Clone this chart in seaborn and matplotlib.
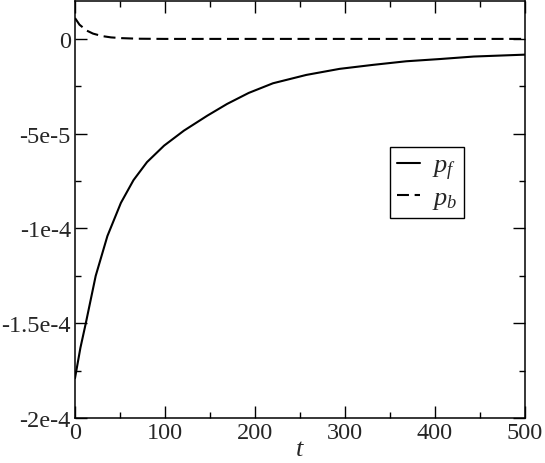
import numpy as np
import pandas as pd
import matplotlib
matplotlib.use("Agg")
import matplotlib.pyplot as plt
import seaborn as sns
from matplotlib.ticker import FixedLocator, FixedFormatter, MultipleLocator

# --- data ---
t_f = [0, 6, 12, 23, 36, 51, 65, 80, 99, 121, 147, 169, 193, 220, 257, 294,
       331, 368, 406, 443, 500]
p_f = [-17.9e-5, -16.3e-5, -15.0e-5, -12.5e-5, -10.4e-5, -8.65e-5, -7.45e-5,
       -6.5e-5, -5.63e-5, -4.84e-5, -4.05e-5, -3.43e-5, -2.85e-5, -2.34e-5,
       -1.90e-5, -1.58e-5, -1.37e-5, -1.18e-5, -1.06e-5, -0.93e-5, -0.83e-5]
t_b = [0, 5, 13, 20, 30, 40, 52, 70, 100, 500]
p_b = [11e-6, 7.5e-6, 4.4e-6, 2.8e-6, 1.5e-6, 0.8e-6, 0.4e-6, 0.1e-6, 0.0, 0.0]

y_ticks = [0, -5e-5, -1e-4, -1.5e-4, -2e-4]
y_tick_labels = ["0", "-5e-5", "-1e-4", "-1.5e-4", "-2e-4"]
x_ticks = [0, 100, 200, 300, 400, 500]
x_tick_labels = ["0", "100", "200", "300", "400", "500"]

sns.set_style("ticks")
plt.rcParams["font.family"] = ["Liberation Serif", "DejaVu Serif"]
plt.rcParams["mathtext.fontset"] = "custom"
plt.rcParams["mathtext.rm"] = "Liberation Serif"
plt.rcParams["mathtext.it"] = "Liberation Serif:italic"
plt.rcParams["lines.scale_dashes"] = False

df_f = pd.DataFrame({"t": t_f, "p": p_f})
df_b = pd.DataFrame({"t": t_b, "p": p_b})

fig = plt.figure(figsize=(5.45, 4.64), dpi=100)
ax = fig.add_axes([75 / 545, 1 - 419 / 464, 450 / 545, 417 / 464])

sns.lineplot(data=df_f, x="t", y="p", ax=ax, color="black", lw=1.5, label=r"$p_f$")
sns.lineplot(data=df_b, x="t", y="p", ax=ax, color="black", lw=1.5,
             linestyle=(0, (8.6, 4.1)), label=r"$p_b$")

ax.set_xlim(0, 500)
ax.set_ylim(-2e-4, 2e-5)

ax.xaxis.set_major_locator(FixedLocator(x_ticks))
ax.xaxis.set_major_formatter(FixedFormatter(x_tick_labels))
ax.xaxis.set_minor_locator(MultipleLocator(50))
ax.yaxis.set_major_locator(FixedLocator(y_ticks))
ax.yaxis.set_major_formatter(FixedFormatter(y_tick_labels))
ax.yaxis.set_minor_locator(MultipleLocator(2.5e-5))

ax.tick_params(which="both", direction="in", top=True, right=True,
               width=1.0, color="black", labelsize=17.5, pad=3)
ax.tick_params(which="major", length=8.5)
ax.tick_params(which="minor", length=4.5)

for s in ax.spines.values():
    s.set_linewidth(1.1)
    s.set_color("black")

ax.set_xlabel(r"$t$", fontsize=19, labelpad=-4)
ax.set_ylabel("")

leg = ax.legend(loc="upper left", bbox_to_anchor=(0.70, 0.65), fontsize=19,
                frameon=True, fancybox=False, handlelength=0.9, handletextpad=0.45,
                borderpad=0.25, labelspacing=0.15, borderaxespad=0)
leg.get_frame().set_edgecolor("black")
leg.get_frame().set_linewidth(1.0)
leg.get_frame().set_alpha(1)

fig.savefig("out.png", dpi=100)
